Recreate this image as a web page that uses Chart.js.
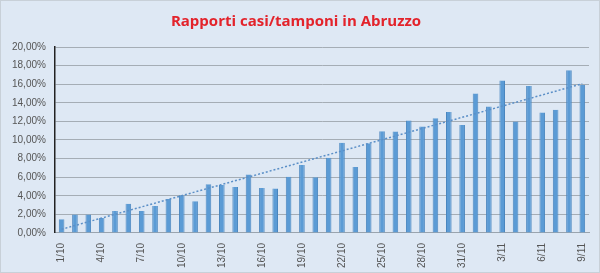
<!DOCTYPE html>
<html>
<head>
<meta charset="utf-8">
<script src="https://cdn.jsdelivr.net/npm/chart.js@4/dist/chart.umd.min.js"></script>
<style>
  html, body { margin: 0; padding: 0; background: #fff; }
  #wrap { width: 598px; height: 271px; border: 1px solid #c8d0d8; background: #dee8f4; }
</style>
</head>
<body>
<div id="wrap"><canvas id="chart" width="598" height="271"></canvas></div>
<script>
// giorni (ottobre - novembre)
const giorni = ['1/10','2/10','3/10','4/10','5/10','6/10','7/10','8/10','9/10','10/10',
  '11/10','12/10','13/10','14/10','15/10','16/10','17/10','18/10','19/10','20/10',
  '21/10','22/10','23/10','24/10','25/10','26/10','27/10','28/10','29/10','30/10',
  '31/10','1/11','2/11','3/11','4/11','5/11','6/11','7/11','8/11','9/11'];

// rapporto casi/tamponi in %
const rapporti = [1.47, 2.0, 2.0, 1.6, 2.35, 3.15, 2.35, 2.9, 3.65, 4.05,
  3.4, 5.25, 5.15, 4.95, 6.3, 4.85, 4.78, 6.05, 7.3, 6.0,
  8.1, 9.7, 7.1, 9.65, 10.95, 10.9, 12.1, 11.45, 12.35, 13.0,
  11.6, 15.0, 13.6, 16.4, 12.0, 15.8, 12.95, 13.25, 17.5, 15.9];

// linea di tendenza (estremi)
const tendenza = [{ x: '1/10', y: 0.4 }, { x: '9/11', y: 16.05 }];

const yTicks = [0, 2, 4, 6, 8, 10, 12, 14, 16, 18, 20];

function pct(v) {
    return v.toFixed(2).replace('.', ',') + '%';
}

new Chart(document.getElementById('chart'), {
    data: {
        labels: giorni,
        datasets: [{
            type: 'line',
            data: tendenza,
            borderColor: '#5b8fc7',
            borderWidth: 1.5,
            borderDash: [2, 2],
            pointRadius: 0,
            fill: false,
            order: 0
        }, {
            type: 'bar',
            data: rapporti,
            backgroundColor: '#5b9bd5',
            borderColor: '#4a86bf',
            borderWidth: { left: 1, right: 1, top: 0, bottom: 0 },
            barPercentage: 0.42,
            categoryPercentage: 1,
            order: 1
        }]
    },
    options: {
        responsive: false,
        animation: false,
        layout: { padding: { left: 2, right: 10, top: 0, bottom: 2 } },
        plugins: {
            legend: { display: false },
            tooltip: { enabled: false },
            title: {
                display: true,
                text: 'Rapporti casi/tamponi in Abruzzo',
                color: '#e3232b',
                font: { family: 'Open Sans', size: 15, weight: 'bold' },
                padding: { top: 12, bottom: 16 }
            }
        },
        scales: {
            x: {
                grid: { display: false },
                border: { color: '#9aa4ae' },
                ticks: {
                    autoSkip: false,
                    minRotation: 90,
                    maxRotation: 90,
                    padding: 2,
                    color: '#555',
                    font: { family: 'Liberation Sans', size: 10 },
                    callback: function (v, i) { return i % 3 === 0 ? giorni[i] : ''; }
                }
            },
            y: {
                min: 0,
                max: 20,
                afterBuildTicks: function (ax) { ax.ticks = yTicks.map(v => ({ value: v })); },
                grid: { color: '#a5adb5', drawTicks: false },
                border: { color: '#222', width: 1.5 },
                ticks: {
                    padding: 9,
                    color: '#555',
                    font: { family: 'Liberation Sans', size: 10 },
                    callback: function (v) { return pct(v); }
                }
            }
        }
    }
});
</script>
</body>
</html>
